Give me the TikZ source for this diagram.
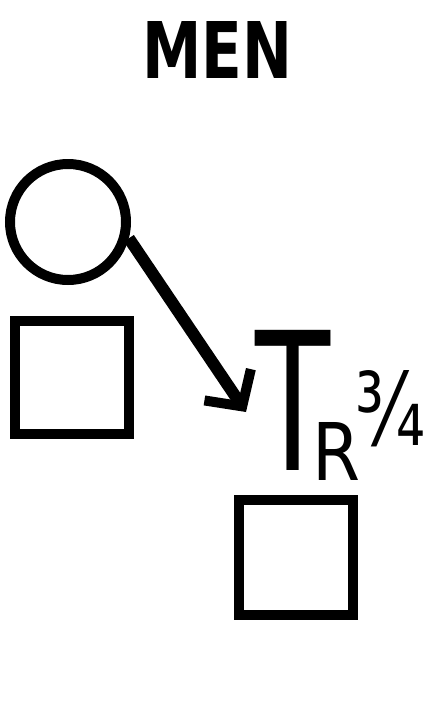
\documentclass[tikz,border=0pt]{standalone}
\usepackage{fontspec}
\setmainfont{DejaVu Sans}
\usetikzlibrary{arrows.meta}
\begin{document}
\begin{tikzpicture}[x=1pt,y=-1pt,
  shape line/.style={draw=black,line width=10pt},
  lbl/.style={inner sep=0pt,anchor=base west},
  link/.style={line width=12pt,-{Straight Barb[length=26pt,width=56pt,line width=10pt]}}]
\useasboundingbox (0,0) rectangle (439,715);
\node[lbl] (title) at (142,78) {\resizebox{150pt}{57pt}{\bfseries MEN}};
\node[shape line,circle,minimum size=116pt,inner sep=0pt] (c) at (68,222) {};
\node[shape line,rectangle,minimum width=114pt,minimum height=113pt,inner sep=0pt] (s1) at (72,377.5) {};
\node[shape line,rectangle,minimum width=114pt,minimum height=115pt,inner sep=0pt] (s2) at (296,557.5) {};
\node[lbl] (T) at (255,470) {\resizebox{75pt}{140pt}{T}};
\node[lbl] (R) at (312,480) {\resizebox{48pt}{58pt}{R}};
\node[lbl] (frac) at (355,445) {\resizebox{70pt}{75pt}{¾}};
\coordinate (tip) at (246,412);
\draw[link] (c.-15) -- (tip);
\end{tikzpicture}
\end{document}
